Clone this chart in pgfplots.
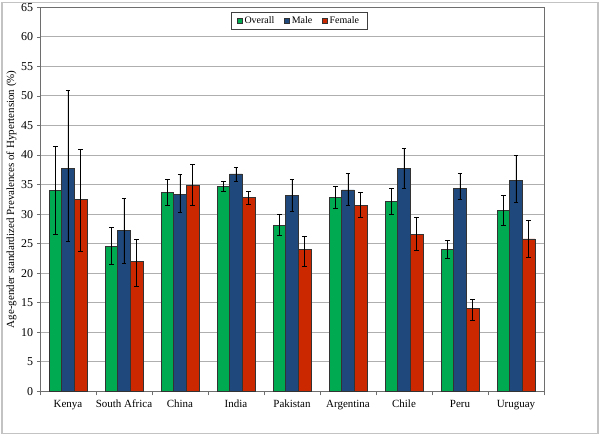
\documentclass[border=0pt]{standalone}
\usepackage{fontspec}
\setmainfont{Liberation Serif}
\usepackage{pgfplots}
\usepackage{pgfplotstable}
\pgfplotsset{compat=1.18}
\definecolor{cOverall}{RGB}{0,170,80}
\definecolor{cMale}{RGB}{31,73,125}
\definecolor{cFemale}{RGB}{204,40,0}
\definecolor{gridc}{RGB}{175,175,175}
\definecolor{framec}{RGB}{110,110,110}
\definecolor{outerc}{RGB}{195,195,195}

\pgfplotstableread{
x y ep em
0 34.0 7.4 7.4
1 24.6 3.2 3.2
2 33.7 2.2 2.3
3 34.7 0.8 0.8
4 28.1 1.8 1.7
5 32.8 1.8 1.8
6 32.1 2.2 2.2
7 24.0 1.5 1.5
8 30.6 2.5 2.5
}\overall
\pgfplotstableread{
x y ep em
0 37.7 13.2 12.3
1 27.3 5.3 5.7
2 33.4 3.3 3.2
3 36.8 1.1 1.3
4 33.1 2.7 2.6
5 34.1 2.8 2.7
6 37.7 3.4 3.3
7 34.3 2.6 1.9
8 35.7 4.2 3.8
}\male
\pgfplotstableread{
x y ep em
0 32.5 8.4 8.9
1 22.0 3.7 4.2
2 34.9 3.5 3.5
3 32.8 1.1 1.1
4 24.0 2.3 2.8
5 31.5 2.2 2.1
6 26.6 2.9 2.8
7 14.0 1.6 2.0
8 25.8 3.2 3.1
}\female

\begin{document}
\begin{tikzpicture}
\path (0bp,0bp) rectangle (600bp,437bp);
\draw[outerc, line width=1.2pt] (2bp,4bp) rectangle (598bp,435bp);
\begin{axis}[
  at={(40bp,46bp)}, anchor=south west,
  width=504bp, height=384bp, scale only axis,
  xmin=-0.5, xmax=8.5, ymin=0, ymax=65,
  ytick={0,5,...,65},
  xtick={0,...,8},
  xticklabels={Kenya,South Africa,China,India,Pakistan,Argentina,Chile,Peru,Uruguay},
  minor xtick={-0.5,0.5,...,8.5},
  major x tick style={draw=none},
  minor x tick style={framec, line width=0.6pt},
  minor tick length=4bp,
  y tick style={framec, line width=0.6pt},
  major tick length=3bp,
  tick align=outside,
  xtick pos=bottom, ytick pos=left,
  ymajorgrids,
  grid style={gridc, line width=0.9pt},
  axis line style={framec, line width=0.8pt},
  /pgf/number format/assume math mode=true,
  yticklabel style={font=\fontsize{12}{13}\selectfont, xshift=-0.5bp},
  xticklabel style={font=\fontsize{11}{13}\selectfont, yshift=-2bp},
  ylabel={Age-gender standardized Prevalences of Hypertension (\%)},
  every axis y label/.style={at={(axis description cs:0,0.5)}, rotate=90, anchor=center, yshift=28.5bp, font=\fontsize{11}{13}\selectfont},
  ybar, bar width=0.226,
  error bars/y dir=both, error bars/y explicit,
  error bars/error bar style={black, line width=0.9pt},
  error bars/error mark options={rotate=90, mark size=2.2bp, black, line width=0.9pt},
  legend columns=3,
  legend style={at={(0.514,0.987)}, anchor=north, draw=black!75, line width=0.7pt,
    font=\fontsize{10}{11}\selectfont, inner xsep=6bp, inner ysep=2bp,
    /tikz/every even column/.append style={column sep=8bp}},
  legend image code/.code={\draw[#1, line width=0.4pt] (0bp,-2.5bp) rectangle (5bp,2.5bp);},
]
\addplot[fill=cOverall, draw=black!80, line width=0.6pt, bar shift=-0.226]
  table[x=x, y=y, y error plus=ep, y error minus=em]{\overall};
\addplot[fill=cMale, draw=black!80, line width=0.6pt, bar shift=0]
  table[x=x, y=y, y error plus=ep, y error minus=em]{\male};
\addplot[fill=cFemale, draw=black!80, line width=0.6pt, bar shift=0.226]
  table[x=x, y=y, y error plus=ep, y error minus=em]{\female};
\legend{Overall,Male,Female}
\end{axis}
\end{tikzpicture}
\end{document}
